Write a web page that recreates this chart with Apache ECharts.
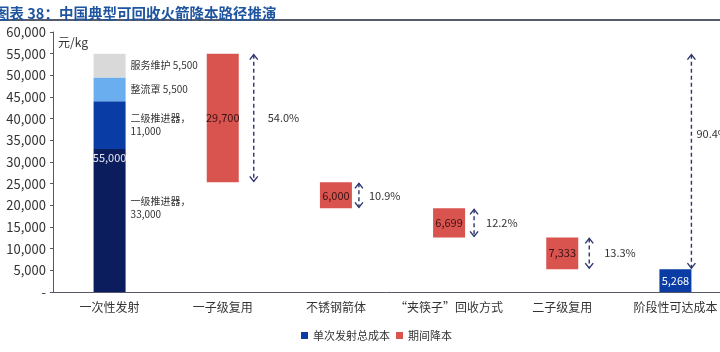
<!DOCTYPE html>
<html>
<head>
<meta charset="utf-8">
<script src="https://cdn.jsdelivr.net/npm/echarts@6/dist/echarts.min.js"></script>
<style>
  html, body { margin: 0; padding: 0; background: #fff; }
  #chart { width: 720px; height: 352px; }
</style>
</head>
<body>
<div id="chart"></div>
<script>
const categories = ['一次性发射', '一子级复用', '不锈钢箭体', '“夹筷子”回收方式', '二子级复用', '阶段性可达成本'];
// 一次性发射成本拆分（自下而上）
const partNames = ['一级推进器', '二级推进器', '整流罩', '服务维护'];
const partValues = [33000, 11000, 5500, 5500];
// 各步骤期间降本
const reductions = [null, 29700, 6000, 6699, 7333, null];
const finalCost = 5268;
const pctLabels = ['54.0%', '10.9%', '12.2%', '13.3%', '90.4%'];

const C = {
  parts: ['#0b1d5c', '#0a3ca6', '#6aaef0', '#d9d9d9'],
  blue: '#0a3ca6',
  red: '#d9534f',
  arrow: '#2c3570',
  text: '#333',
  axis: '#55586a',
};
const fmt = (v) => Number(v).toLocaleString('en-US');

const total = partValues.reduce((a, b) => a + b, 0);

// 瀑布底座：从总成本逐步扣减
const bases = [];
let level = total;
reductions.forEach((r) => {
  if (r == null) { bases.push('-'); return; }
  level -= r;
  bases.push(level);
});

// 箭头区间 [类目, 上端, 下端, 文本]
const arrowData = [];
let upper = total;
reductions.forEach((r, i) => {
  if (r == null) return;
  arrowData.push([i, upper, upper - r, pctLabels[arrowData.length]]);
  upper -= r;
});
arrowData.push([categories.length - 1, total, finalCost, pctLabels[arrowData.length]]);
// 箭头相对类目中心的水平偏移、文字偏移（仅样式）
const arrowDx = [31, 23, 25, 27, 16];
const textDx = [14, 10, 12, 15, 5];
const textDy = [0, 0, 0, 0, -28];

const chart = echarts.init(document.getElementById('chart'));

const partSeries = partNames.map((name, i) => ({
  name,
  type: 'bar',
  stack: 'launch',
  barWidth: 32,
  barGap: '-100%',
  data: [partValues[i], '-', '-', '-', '-', '-'],
  itemStyle: { color: C.parts[i] },
  label: {
    show: true,
    position: 'right',
    distance: 5,
    fontSize: 10,
    color: C.text,
    lineHeight: 13,
    offset: i === 0 ? [0, -13] : [0, 0],
    formatter: (p) => name + (i < 2 ? '，\n' : ' ') + fmt(p.value),
  },
  z: 2,
}));

chart.setOption({
  textStyle: { fontFamily: 'Noto Sans CJK SC' },
  animation: false,
  title: {
    text: '图表 38：中国典型可回收火箭降本路径推演',
    left: -10,
    top: 1,
    textStyle: { fontSize: 14.5, fontWeight: 'bold', color: '#1f55a0' },
  },
  graphic: [{
    type: 'line',
    shape: { x1: 0, y1: 20, x2: 720, y2: 20 },
    style: { stroke: '#555b6b', lineWidth: 2 },
  }],
  legend: {
    data: ['单次发射总成本', '期间降本'],
    left: 296,
    top: 325,
    icon: 'rect',
    itemWidth: 7,
    itemHeight: 7,
    itemGap: 6,
    textStyle: { fontSize: 11, color: C.text },
  },
  grid: { left: 53, width: 679, top: 32, bottom: 60, outerBoundsMode: 'none' },
  xAxis: {
    type: 'category',
    data: categories,
    axisLine: { lineStyle: { color: C.axis } },
    axisTick: { inside: true, length: 4, lineStyle: { color: C.axis } },
    axisLabel: { interval: 0, fontSize: 12, color: C.text, margin: 9 },
  },
  yAxis: {
    type: 'value',
    min: 0,
    max: 60000,
    interval: 5000,
    name: '元/kg',
    nameLocation: 'end',
    nameGap: -10,
    nameTextStyle: { fontSize: 12, color: C.text, align: 'left', verticalAlign: 'middle', padding: [0, 0, 0, 5] },
    axisLine: { show: true, lineStyle: { color: C.axis } },
    axisTick: { show: true, length: 3, lineStyle: { color: C.axis } },
    splitLine: { show: false },
    axisLabel: {
      fontSize: 13,
      color: C.text,
      margin: 7,
      formatter: (v) => (v === 0 ? '-' : fmt(v)),
    },
  },
  series: [
    ...partSeries,
    {
      name: '单次发射总成本',
      type: 'bar',
      barWidth: 32,
      barGap: '-100%',
      data: [
        { value: total, itemStyle: { color: 'transparent' },
          label: { position: 'inside', offset: [0, -15], color: '#e6e8f2' } },
        '-', '-', '-', '-', finalCost,
      ],
      itemStyle: { color: C.blue },
      label: { show: true, position: 'inside', fontSize: 11, color: '#fff', formatter: (p) => fmt(p.value) },
      z: 3,
    },
    {
      name: 'base',
      type: 'bar',
      stack: 'fall',
      barWidth: 32,
      barGap: '-100%',
      data: bases,
      itemStyle: { color: 'transparent' },
      silent: true,
    },
    {
      name: '期间降本',
      type: 'bar',
      stack: 'fall',
      barWidth: 32,
      barGap: '-100%',
      data: reductions.map((v) => (v == null ? '-' : v)),
      itemStyle: { color: C.red },
      label: { show: true, position: 'inside', fontSize: 11, color: '#3a1212', formatter: (p) => fmt(p.value) },
    },
    {
      type: 'custom',
      name: 'arrows',
      data: arrowData,
      silent: true,
      z: 4,
      renderItem: (params, api) => {
        const k = params.dataIndex;
        const x = api.coord([api.value(0), 0])[0] + arrowDx[k];
        const y1 = api.coord([api.value(0), api.value(1)])[1];
        const y2 = api.coord([api.value(0), api.value(2)])[1];
        const st = { stroke: C.arrow, lineWidth: 1.4, fill: null };
        return {
          type: 'group',
          children: [
            { type: 'line', shape: { x1: x, y1: y1 + 1, x2: x, y2: y2 - 1 },
              style: { ...st, lineDash: [4, 3] } },
            { type: 'polyline', shape: { points: [[x - 4, y1 + 6], [x, y1 + 1], [x + 4, y1 + 6]] }, style: st },
            { type: 'polyline', shape: { points: [[x - 4, y2 - 6], [x, y2 - 1], [x + 4, y2 - 6]] }, style: st },
            { type: 'text', x: x + textDx[k], y: (y1 + y2) / 2 + textDy[k],
              style: { text: api.value(3), fill: C.text, fontSize: 11, align: 'left', verticalAlign: 'middle',
                fontFamily: 'Noto Sans CJK SC' } },
          ],
        };
      },
    },
  ],
});
</script>
</body>
</html>
